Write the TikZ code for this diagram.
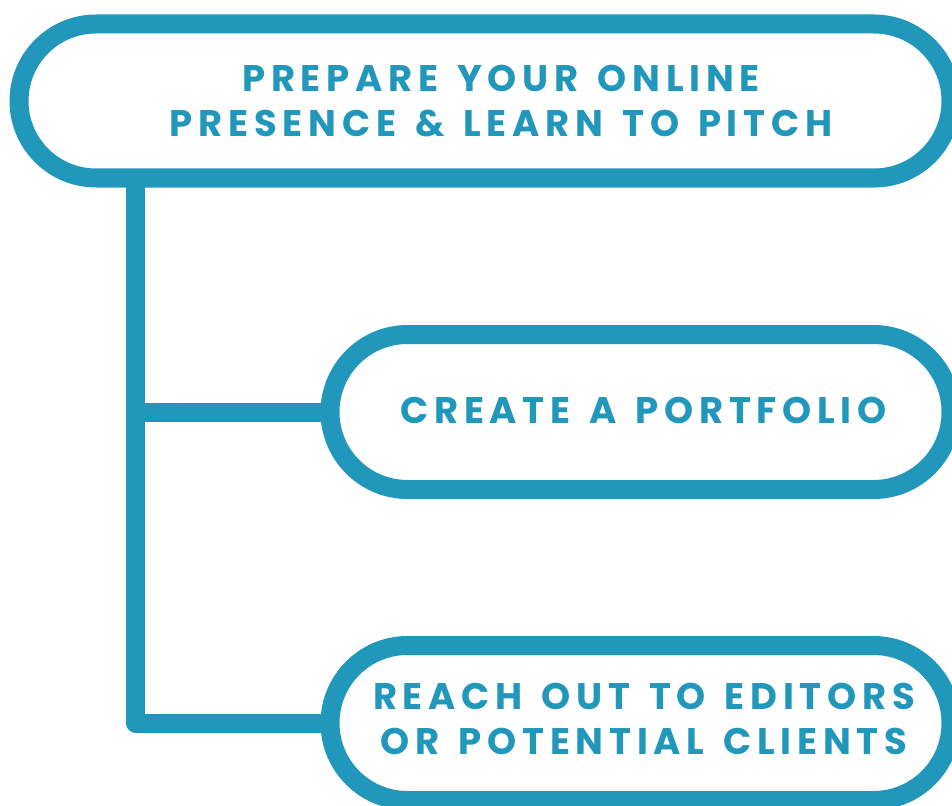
\documentclass[tikz,border=0pt]{standalone}
\usepackage{fontspec}
\setmainfont{Poppins}[LetterSpace=15.5, WordSpace=1.4]
\usetikzlibrary{shapes.misc}
\definecolor{pillblue}{RGB}{34,151,188}

\begin{document}
\begin{tikzpicture}[x=1pt, y=-1pt,
    pill/.style={rounded rectangle, draw=pillblue, fill=white, line width=19pt, outer sep=0pt, inner sep=0pt},
    pilltext/.style={text=pillblue, font=\fontsize{37}{44.5}\selectfont\bfseries, align=center, inner sep=0pt},
    link/.style={draw=pillblue, line width=19pt, line join=round}]
    \useasboundingbox (0,0) rectangle (952,805);

    % connectors first, pills on top
    \coordinate (spine) at (135.5,178);

    \node[pill, minimum width=932pt, minimum height=154pt] (prep) at (485,101) {};
    \node[pill, minimum width=621pt, minimum height=155pt] (folio) at (640.5,412) {};
    \node[pill, minimum width=621pt, minimum height=155pt] (reach) at (640.5,723) {};

    \draw[link] (prep.south -| spine) |- (reach.west);
    \draw[link] (spine |- folio.west) -- (folio.west);

    \node[pilltext] (preptext) at (501,101) {PREPARE YOUR ONLINE\\PRESENCE \& LEARN TO PITCH};
    \node[pilltext] (foliotext) at (643.5,410) {CREATE A PORTFOLIO};
    \node[pilltext] (reachtext) at (644,719) {REACH OUT TO EDITORS\\OR POTENTIAL CLIENTS};
\end{tikzpicture}
\end{document}
